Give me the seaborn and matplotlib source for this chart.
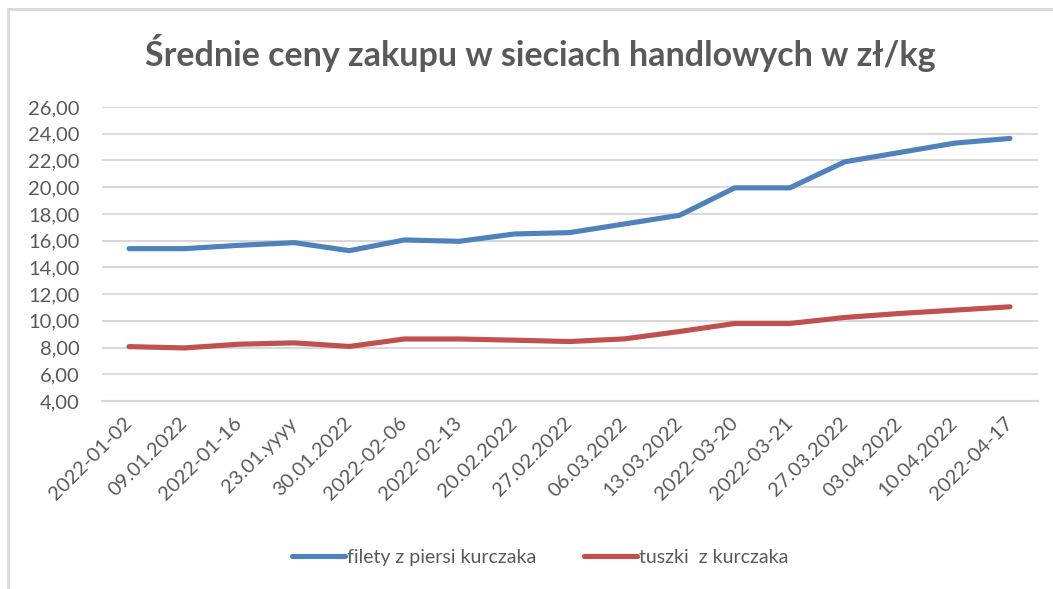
import pandas as pd
import matplotlib.pyplot as plt
import seaborn as sns
from matplotlib.lines import Line2D

# Dane z wykresu
daty = ["2022-01-02", "09.01.2022", "2022-01-16", "23.01.yyyy", "30.01.2022",
        "2022-02-06", "2022-02-13", "20.02.2022", "27.02.2022", "06.03.2022",
        "13.03.2022", "2022-03-20", "2022-03-21", "27.03.2022", "03.04.2022",
        "10.04.2022", "2022-04-17"]
filety = [15.4, 15.4, 15.65, 15.85, 15.25, 16.05, 15.95, 16.5, 16.6, 17.25,
          17.9, 19.95, 19.95, 21.9, 22.6, 23.3, 23.65]
tuszki = [8.07, 7.97, 8.25, 8.35, 8.08, 8.64, 8.64, 8.55, 8.45, 8.65,
          9.2, 9.8, 9.8, 10.25, 10.55, 10.8, 11.05]
serie = ["filety z piersi kurczaka", "tuszki  z kurczaka"]
kolory = ["#4F81BD", "#C0504D"]
y_ticki = list(range(4, 27, 2))

df = pd.DataFrame({
    "data": daty * 2,
    "pozycja": list(range(len(daty))) * 2,
    "cena": filety + tuszki,
    "seria": [serie[0]] * len(daty) + [serie[1]] * len(daty),
})

sns.set_theme(style="white")
plt.rcParams["font.family"] = ["Lato", "DejaVu Sans"]
SZARY = "#595959"

fig = plt.figure(figsize=(10.53, 5.89), dpi=100)
ax = fig.add_axes([0.0964, 0.3192, 0.8889, 0.4991])

sns.lineplot(data=df, x="pozycja", y="cena", hue="seria", palette=kolory,
             linewidth=3.7, ax=ax, legend=False, solid_capstyle="round")

ax.set_xlim(-0.5, len(daty) - 0.5)
ax.set_ylim(4, 26)
ax.set_yticks(y_ticki)
ax.set_yticklabels([f"{v:.2f}".replace(".", ",") for v in y_ticki])
ax.set_xticks(range(len(daty)))
ax.set_xticklabels(daty, rotation=45, ha="right", va="center", rotation_mode="anchor")
ax.tick_params(axis="y", length=0, pad=16, labelsize=14.5, labelcolor=SZARY)
ax.tick_params(axis="x", length=0, pad=14, labelsize=14.5, labelcolor=SZARY)
ax.yaxis.grid(True, color="#d9d9d9", linewidth=1.5)
ax.set_axisbelow(True)
for s in ["top", "right", "left"]:
    ax.spines[s].set_visible(False)
ax.spines["bottom"].set_color("#d9d9d9")
ax.spines["bottom"].set_linewidth(1.5)
ax.set_xlabel("")
ax.set_ylabel("")

fig.text(0.513, 0.91, "Średnie ceny zakupu w sieciach handlowych w zł/kg",
         ha="center", va="center", fontsize=24.5, fontweight="bold", color=SZARY)

uchwyty = [Line2D([0], [0], color=c, linewidth=3.7, solid_capstyle="round") for c in kolory]
fig.legend(uchwyty, serie, loc="center", bbox_to_anchor=(0.513, 0.054), ncol=2,
           frameon=False, fontsize=14, labelcolor=SZARY, handlelength=2.7,
           handletextpad=0.1, columnspacing=2.5)

# ramka wykresu (góra i lewa krawędź)
fig.add_artist(Line2D([8 / 1053, 1], [1 - 9 / 589] * 2, transform=fig.transFigure,
                      color="#d9d9d9", linewidth=2))
fig.add_artist(Line2D([8 / 1053] * 2, [0, 1 - 9 / 589], transform=fig.transFigure,
                      color="#d9d9d9", linewidth=2))

fig.savefig("out.png", dpi=100)
plt.close()
